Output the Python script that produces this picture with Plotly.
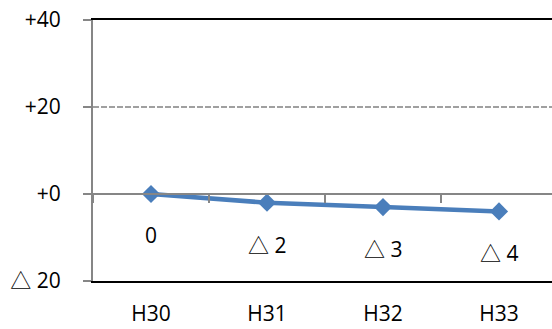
import plotly.graph_objects as go

# Fiscal years and change values
years = ["H30", "H31", "H32", "H33"]
changes = [0, -2, -3, -4]

# Y axis ticks (△ marks a negative value)
y_tickvals = [-20, 0, 20, 40]

FONT = "Open Sans"
TRI = '<span style="font-family:\'Noto Sans CJK JP\'">△</span>'


def fmt(v, zero="0"):
    if v == 0:
        return zero
    return (TRI + " " + str(abs(v))) if v < 0 else "+" + str(v)


y_ticktext = [fmt(v, "+0") for v in y_tickvals]

LINE_BLUE = "#4A7EBB"
GRAY = "#868686"

fig = go.Figure()

fig.add_trace(go.Scatter(
    x=years, y=changes,
    mode="lines+markers",
    line=dict(color=LINE_BLUE, width=4.5),
    marker=dict(symbol="diamond", size=14, color=LINE_BLUE),
    hoverinfo="skip", showlegend=False,
))

# Invisible copy so the zero-line axis knows the categories
fig.add_trace(go.Scatter(
    x=years, y=changes, xaxis="x2", mode="none",
    hoverinfo="skip", showlegend=False,
))

# Value labels placed well below each point
for yr, v in zip(years, changes):
    fig.add_annotation(
        x=yr, y=v, text=fmt(v), showarrow=False, yshift=-41,
        font=dict(family=FONT, size=21, color="black"),
    )

plot_w = 552 - 93
cat_w = 116

fig.update_layout(
    width=552, height=329,
    margin=dict(l=93, r=0, t=20, b=48),
    paper_bgcolor="white", plot_bgcolor="white",
    font=dict(family=FONT, size=21, color="black"),
    xaxis=dict(
        type="category",
        range=[-0.5, -0.5 + plot_w / cat_w],
        showline=True, linecolor="black", linewidth=2, mirror=True,
        showgrid=False, ticks="", zeroline=False,
        tickfont=dict(family=FONT, size=21, color="black"),
        ticklabelstandoff=13,
    ),
    xaxis2=dict(
        type="category",
        overlaying="x", matches="x",
        anchor="free", position=1 / 3, side="bottom",
        showline=True, linecolor=GRAY, linewidth=2,
        ticks="outside", tickson="boundaries", ticklen=8,
        tickwidth=2, tickcolor=GRAY,
        showticklabels=False, showgrid=False, zeroline=False,
    ),
    yaxis=dict(
        range=[-20, 40],
        tickvals=y_tickvals, ticktext=y_ticktext,
        showline=True, linecolor=GRAY, linewidth=2,
        ticks="outside", ticklen=8, tickwidth=2, tickcolor=GRAY,
        showgrid=True, gridcolor="#A0A0A0", gridwidth=2, griddash="6px,2px",
        zeroline=False,
        tickfont=dict(family=FONT, size=21, color="black"),
        ticklabelstandoff=18,
    ),
)

fig.write_html("out.html")
